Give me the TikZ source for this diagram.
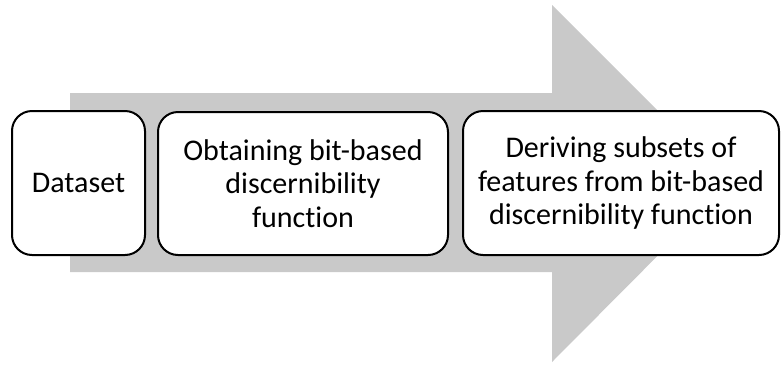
\documentclass[tikz,border=0pt]{standalone}
\usepackage{fontspec}
\setmainfont{Carlito}[Ligatures=NoCommon]
\definecolor{arrowgray}{RGB}{201,201,201}
\begin{document}
\begin{tikzpicture}[x=1pt,y=-1pt,
  stage/.style={draw=black,line width=2pt,fill=white,rounded corners=20pt,
    align=center,font=\fontsize{30}{33.5}\selectfont,inner sep=0pt}]
\useasboundingbox (0,0) rectangle (782,365);
% background process arrow
\fill[arrowgray] (70,93) -- (552,93) -- (552,5) -- (730,183) -- (552,362)
  -- (552,272) -- (70,272) -- cycle;
% stage boxes
\node[stage,minimum width=133pt,minimum height=144pt] (data) at (78.5,183) {Dataset};
\node[stage,minimum width=290pt,minimum height=143pt] (bits) at (303,183.5)
  {Obtaining bit-based\\discernibility\\function};
\node[stage,minimum width=316pt,minimum height=144pt] (subsets) at (621,183)
  {Deriving subsets of\\features from bit-based\\discernibility function};
\end{tikzpicture}
\end{document}
